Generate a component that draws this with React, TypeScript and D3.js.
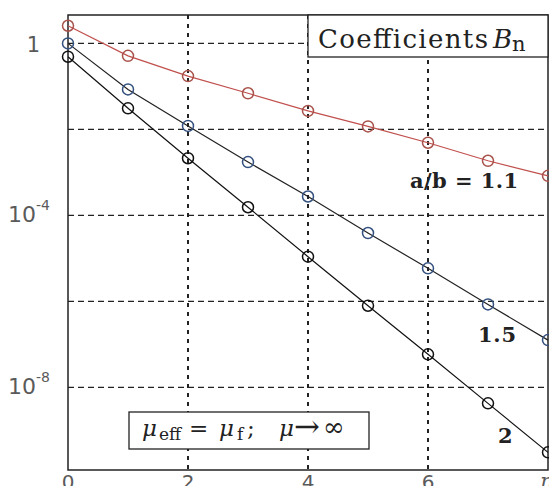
import { useEffect, useRef } from "react";
import * as d3 from "d3";

const nValues = [0, 1, 2, 3, 4, 5, 6, 7, 8];
// log10 of B_n
const ratio11 = [0.41, -0.29, -0.76, -1.16, -1.57, -1.93, -2.31, -2.73, -3.08];
const ratio15 = [0.0, -1.07, -1.92, -2.76, -3.56, -4.41, -5.23, -6.07, -6.9];
const ratio20 = [-0.31, -1.51, -2.67, -3.81, -4.96, -6.1, -7.23, -8.37, -9.51];
const xTicks = [0, 2, 4, 6, 8];
const yLabelExps = [0, -4, -8];
const yGridExps = [0, -2, -4, -6, -8];

const series = [
  { name: "a/b = 1.1", values: ratio11, line: "#c0504d", marker: "#a8524a" },
  { name: "1.5", values: ratio15, line: "#222", marker: "#33507e" },
  { name: "2", values: ratio20, line: "#111", marker: "#111" },
];

function App() {
  const ref = useRef<SVGSVGElement>(null);

  useEffect(() => {
    const svg = d3.select(ref.current);
    svg.selectAll("*").remove();
    const left = 68, top = 15, right = 548, bottom = 470;

    const x = d3.scaleLinear().domain([0, 8]).range([left, right]);
    const y = d3
      .scaleLog()
      .domain([Math.pow(10, -9.92), Math.pow(10, 0.66)])
      .range([bottom, top]);

    svg.append("rect").attr("width", 557).attr("height", 494).attr("fill", "#fff");

    // grid
    const grid = svg.append("g").attr("stroke", "#222").attr("stroke-width", 1.3);
    yGridExps.forEach((e) => {
      grid
        .append("line")
        .attr("x1", left)
        .attr("x2", right)
        .attr("y1", y(Math.pow(10, e)))
        .attr("y2", y(Math.pow(10, e)))
        .attr("stroke-dasharray", "6,4");
    });
    xTicks.slice(1, -1).forEach((t) => {
      grid
        .append("line")
        .attr("x1", x(t))
        .attr("x2", x(t))
        .attr("y1", top)
        .attr("y2", bottom)
        .attr("stroke-width", 2)
        .attr("stroke-dasharray", "4,5");
    });

    // axes box
    svg
      .append("rect")
      .attr("x", left)
      .attr("y", top)
      .attr("width", right - left)
      .attr("height", bottom - top)
      .attr("fill", "none")
      .attr("stroke", "#222")
      .attr("stroke-width", 1.5);

    // tick labels
    const lab = svg
      .append("g")
      .attr("font-family", "DejaVu Sans, sans-serif")
      .attr("fill", "#5a5a5a");
    xTicks.forEach((t) => {
      if (t === 8) {
        lab
          .append("text")
          .attr("x", x(t) - 1)
          .attr("y", 488)
          .attr("text-anchor", "middle")
          .attr("font-family", "DejaVu Serif, serif")
          .attr("font-style", "italic")
          .attr("font-size", 21)
          .text("n");
      } else {
        lab
          .append("text")
          .attr("x", x(t))
          .attr("y", 489)
          .attr("text-anchor", "middle")
          .attr("font-size", 20)
          .text(String(t));
      }
    });
    yLabelExps.forEach((e) => {
      const yy = y(Math.pow(10, e));
      if (e === 0) {
        lab
          .append("text")
          .attr("x", 40)
          .attr("y", yy + 9)
          .attr("text-anchor", "end")
          .attr("font-size", 21)
          .text("1");
      } else {
        const t = lab
          .append("text")
          .attr("x", 8)
          .attr("y", yy + 7)
          .attr("font-size", 22)
          .text("10");
        t.append("tspan")
          .attr("dy", -12)
          .attr("font-size", 14)
          .text(String(e));
      }
    });

    // series
    const line = d3
      .line<number>()
      .x((_, i) => x(nValues[i]))
      .y((d) => y(Math.pow(10, d)));
    series.forEach((s) => {
      svg
        .append("path")
        .datum(s.values)
        .attr("d", line)
        .attr("fill", "none")
        .attr("stroke", s.line)
        .attr("stroke-width", 1.2);
      svg
        .append("g")
        .selectAll("circle")
        .data(s.values)
        .join("circle")
        .attr("cx", (_, i) => x(nValues[i]))
        .attr("cy", (d) => y(Math.pow(10, d)))
        .attr("r", 5.5)
        .attr("fill", "none")
        .attr("stroke", s.marker)
        .attr("stroke-width", 1.5);
    });

    // curve labels
    const serif = "DejaVu Serif, serif";
    const curveLabels = [
      { x: 410, y: 188, w: 108 },
      { x: 478, y: 342, w: 38 },
      { x: 498, y: 443, w: 15 },
    ];
    curveLabels.forEach((c, i) => {
      svg
        .append("text")
        .attr("x", c.x)
        .attr("y", c.y)
        .attr("font-family", serif)
        .attr("font-weight", "bold")
        .attr("font-size", 21)
        .attr("fill", "#222")
        .attr("textLength", c.w)
        .attr("lengthAdjust", "spacing")
        .text(series[i].name);
    });

    // title box
    svg
      .append("rect")
      .attr("x", 308)
      .attr("y", top)
      .attr("width", right - 308)
      .attr("height", 42)
      .attr("fill", "#fff")
      .attr("stroke", "#222")
      .attr("stroke-width", 1.3);
    svg
      .append("text")
      .attr("x", 318)
      .attr("y", 48)
      .attr("font-family", serif)
      .attr("font-size", 26)
      .attr("fill", "#222")
      .attr("textLength", 170)
      .attr("lengthAdjust", "spacing")
      .text("Coefficients");
    const bn = svg
      .append("text")
      .attr("x", 493)
      .attr("y", 48)
      .attr("font-family", serif)
      .attr("font-size", 26)
      .attr("fill", "#222");
    bn.append("tspan").attr("font-style", "italic").text("B");
    bn.append("tspan").attr("dy", 3).attr("font-size", 21).text("n");

    // condition box
    svg
      .append("rect")
      .attr("x", 129)
      .attr("y", 412)
      .attr("width", 240)
      .attr("height", 37)
      .attr("fill", "#fff")
      .attr("stroke", "#222")
      .attr("stroke-width", 1.3);
    const cond = svg
      .append("g")
      .attr("font-family", serif)
      .attr("font-size", 23)
      .attr("fill", "#222");
    const pieces = [
      { t: "μ", x: 142, dy: 0, size: 23, italic: true },
      { t: "eff", x: 159, dy: 4, size: 17, italic: false },
      { t: "=", x: 189, dy: 0, size: 23, italic: false },
      { t: "μ", x: 219, dy: 0, size: 23, italic: true },
      { t: "f", x: 237, dy: 4, size: 17, italic: false },
      { t: ";", x: 247, dy: 0, size: 23, italic: false },
      { t: "μ", x: 279, dy: 0, size: 23, italic: true },
      { t: "→", x: 294, dy: 1, size: 31, italic: false },
      { t: "∞", x: 323, dy: 0, size: 26, italic: false },
    ];
    pieces.forEach((p) => {
      cond
        .append("text")
        .attr("x", p.x)
        .attr("y", 436 + p.dy)
        .attr("font-size", p.size)
        .attr("font-style", p.italic ? "italic" : "normal")
        .text(p.t);
    });
  }, []);

  return <svg ref={ref} width={557} height={494} style={{ display: "block", margin: -8 }} />;
}

export default App;
